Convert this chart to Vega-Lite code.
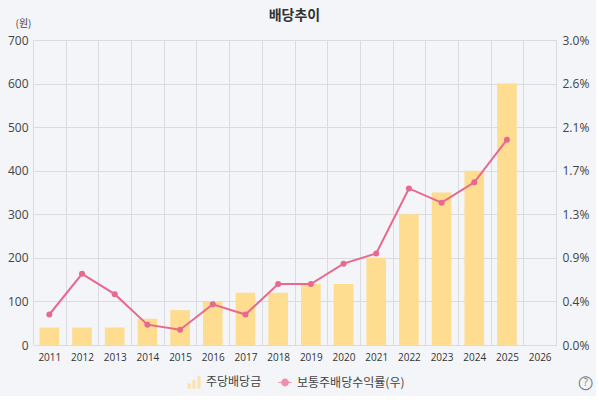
{
  "$schema": "https://vega.github.io/schema/vega-lite/v6.json",
  "autosize": {"type": "none"},
  "padding": {"left": 33, "top": 40, "right": 40, "bottom": 51},
  "width": 523,
  "height": 305,
  "background": "#f3f5f8",
  "title": {
    "text": "배당추이",
    "font": "Noto Sans CJK KR",
    "fontSize": 14,
    "fontWeight": "bold",
    "color": "#333333",
    "anchor": "middle",
    "offset": 16,
    "dy": 21
  },
  "data": {
    "values": [
      {"year": "2011", "series": "주당배당금", "value": 40},
      {"year": "2012", "series": "주당배당금", "value": 40},
      {"year": "2013", "series": "주당배당금", "value": 40},
      {"year": "2014", "series": "주당배당금", "value": 60},
      {"year": "2015", "series": "주당배당금", "value": 80},
      {"year": "2016", "series": "주당배당금", "value": 100},
      {"year": "2017", "series": "주당배당금", "value": 120},
      {"year": "2018", "series": "주당배당금", "value": 120},
      {"year": "2019", "series": "주당배당금", "value": 140},
      {"year": "2020", "series": "주당배당금", "value": 140},
      {"year": "2021", "series": "주당배당금", "value": 200},
      {"year": "2022", "series": "주당배당금", "value": 300},
      {"year": "2023", "series": "주당배당금", "value": 350},
      {"year": "2024", "series": "주당배당금", "value": 400},
      {"year": "2025", "series": "주당배당금", "value": 600},
      {"year": "2011", "series": "보통주배당수익률(우)", "value": 0.3},
      {"year": "2012", "series": "보통주배당수익률(우)", "value": 0.7},
      {"year": "2013", "series": "보통주배당수익률(우)", "value": 0.5},
      {"year": "2014", "series": "보통주배당수익률(우)", "value": 0.2},
      {"year": "2015", "series": "보통주배당수익률(우)", "value": 0.15},
      {"year": "2016", "series": "보통주배당수익률(우)", "value": 0.4},
      {"year": "2017", "series": "보통주배당수익률(우)", "value": 0.3},
      {"year": "2018", "series": "보통주배당수익률(우)", "value": 0.6},
      {"year": "2019", "series": "보통주배당수익률(우)", "value": 0.6},
      {"year": "2020", "series": "보통주배당수익률(우)", "value": 0.8},
      {"year": "2021", "series": "보통주배당수익률(우)", "value": 0.9},
      {"year": "2022", "series": "보통주배당수익률(우)", "value": 1.54},
      {"year": "2023", "series": "보통주배당수익률(우)", "value": 1.4},
      {"year": "2024", "series": "보통주배당수익률(우)", "value": 1.6},
      {"year": "2025", "series": "보통주배당수익률(우)", "value": 2.02},
      {"year": "2026", "series": "help", "value": 0}
    ]
  },
  "encoding": {
    "x": {
      "field": "year",
      "type": "nominal",
      "title": null,
      "scale": {
        "domain": ["2011", "2012", "2013", "2014", "2015", "2016", "2017", "2018", "2019", "2020", "2021", "2022", "2023", "2024", "2025", "2026"],
        "paddingInner": 0,
        "paddingOuter": 0
      },
      "axis": {
        "labelAngle": 0,
        "labelFont": "Open Sans",
        "labelFontSize": 10,
        "labelColor": "#333333",
        "labelPadding": 7,
        "ticks": false,
        "domain": false,
        "grid": true,
        "gridColor": "#d9dbdf",
        "tickBand": "extent"
      }
    }
  },
  "layer": [
    {
      "transform": [{"filter": "datum.series === '주당배당금'"}],
      "mark": {"type": "bar", "width": {"band": 0.6}},
      "encoding": {
        "y": {
          "field": "value",
          "type": "quantitative",
          "scale": {"domain": [0, 700]},
          "title": "(원)",
          "axis": {
            "values": [0, 100, 200, 300, 400, 500, 600, 700],
            "labelFont": "Open Sans",
            "labelFontSize": 12,
            "labelColor": "#444444",
            "labelPadding": 5,
            "ticks": false,
            "domain": false,
            "grid": true,
            "gridColor": "#d9dbdf",
            "titleAngle": 0,
            "titleFont": "Noto Sans CJK KR",
            "titleFontSize": 10,
            "titleFontWeight": "normal",
            "titleColor": "#444444",
            "titleX": -10,
            "titleY": -12
          }
        },
        "color": {
          "field": "series",
          "type": "nominal",
          "scale": {
            "domain": ["주당배당금", "보통주배당수익률(우)"],
            "range": ["#fedc90", "#e8688f"]
          },
          "legend": {
            "title": null,
            "orient": "none",
            "direction": "horizontal",
            "legendX": 154,
            "legendY": 335,
            "symbolSize": 170,
            "symbolOpacity": 0.8,
            "symbolStrokeWidth": 0,
            "labelFont": "Noto Sans CJK KR",
            "labelFontSize": 12,
            "labelColor": "#444444",
            "columnPadding": 16,
            "labelOffset": 5
          }
        }
      }
    },
    {
      "transform": [{"filter": "datum.series === 'legend only'"}],
      "mark": {"type": "point", "filled": true},
      "encoding": {
        "color": {"field": "series", "type": "nominal"},
        "shape": {
          "field": "series",
          "type": "nominal",
          "scale": {
            "domain": ["주당배당금", "보통주배당수익률(우)"],
            "range": [
              "M-1,1V0.2H-0.5V1Z M-0.25,1V-0.4H0.25V1Z M0.5,1V-1H1V1Z",
              "M-1,-0.08H1V0.08H-1Z M0.6,0A0.6,0.6 0 1,1 -0.6,0A0.6,0.6 0 1,1 0.6,0Z"
            ]
          }
        }
      }
    },
    {
      "transform": [{"filter": "datum.series === '보통주배당수익률(우)'"}],
      "mark": {"type": "line", "strokeWidth": 2, "color": "#e8688f"},
      "encoding": {
        "y": {
          "field": "value",
          "type": "quantitative",
          "scale": {"domain": [0, 3]},
          "title": null,
          "axis": {
            "orient": "right",
            "values": [0, 0.4286, 0.8571, 1.2857, 1.7143, 2.1429, 2.5714, 3],
            "labelExpr": "format(datum.value, '.1f') + '%'",
            "labelFont": "Open Sans",
            "labelFontSize": 12,
            "labelColor": "#444444",
            "labelPadding": 6,
            "ticks": false,
            "domain": false,
            "grid": false
          }
        }
      }
    },
    {
      "transform": [{"filter": "datum.series === '보통주배당수익률(우)'"}],
      "mark": {"type": "circle", "size": 36, "color": "#e8688f", "opacity": 1},
      "encoding": {
        "y": {"field": "value", "type": "quantitative", "scale": {"domain": [0, 3]}, "axis": null}
      }
    },
    {
      "transform": [{"filter": "datum.series === 'help'"}],
      "mark": {"type": "text", "text": "?", "dx": 46, "dy": 38, "font": "Open Sans", "fontSize": 10, "color": "#777777"},
      "encoding": {
        "y": {"field": "value", "type": "quantitative", "scale": {"domain": [0, 3]}, "axis": null}
      }
    },
    {
      "transform": [{"filter": "datum.series === 'help'"}],
      "mark": {"type": "text", "text": "○", "dx": 46, "dy": 38, "font": "DejaVu Sans", "fontSize": 18, "color": "#777777"},
      "encoding": {
        "y": {"field": "value", "type": "quantitative", "scale": {"domain": [0, 3]}, "axis": null}
      }
    }
  ],
  "resolve": {"scale": {"y": "independent"}},
  "config": {
    "view": {"stroke": null},
    "axis": {"gridOpacity": 1, "gridWidth": 1}
  }
}
